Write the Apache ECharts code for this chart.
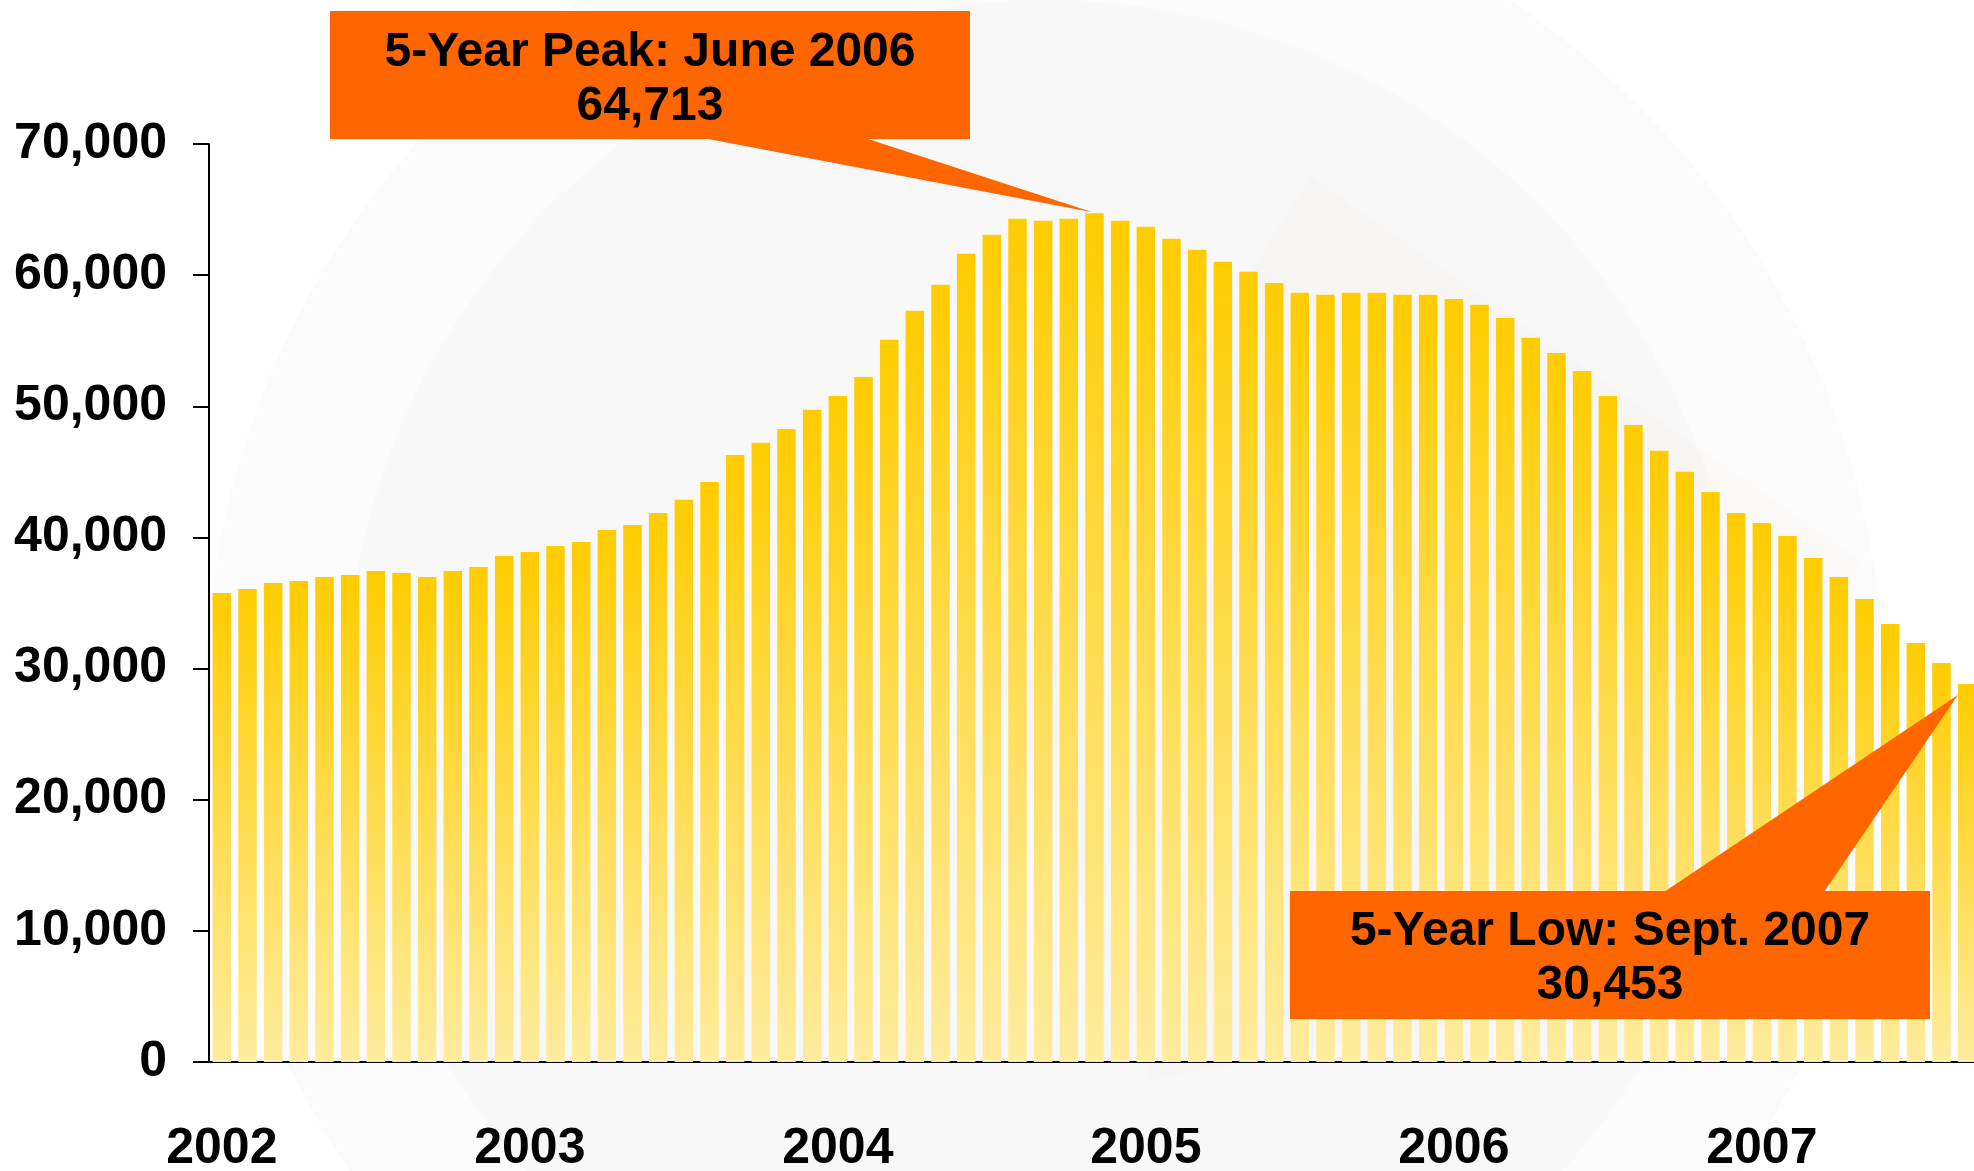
<!DOCTYPE html>
<html>
<head>
<meta charset="utf-8">
<script src="https://cdn.jsdelivr.net/npm/echarts@6/dist/echarts.min.js"></script>
<style>
html,body{margin:0;padding:0;background:#ffffff;}
#chart{width:1974px;height:1171px;}
</style>
</head>
<body>
<div id="chart"></div>
<script>
// ---- Data ----
const years = ['2002', '2003', '2004', '2005', '2006', '2007'];
const monthsInYear = [12, 12, 12, 12, 12, 9];
const categories = [];
years.forEach(function (y, i) {
  for (let m = 1; m <= monthsInYear[i]; m++) {
    categories.push(y + '-' + (m < 10 ? '0' + m : '' + m));
  }
});

const values = [
  35760, 36070, 36520, 36680, 36980, 37140, 37440, 37290, 36980, 37440, 37750, 38590,
  38890, 39350, 39650, 40570, 40950, 41870, 42870, 44220, 46290, 47210, 48270, 49730,
  50790, 52240, 55070, 57280, 59260, 61630, 63080, 64300, 64150, 64300, 64713, 64150,
  63690, 62770, 61930, 61020, 60250, 59410, 58650, 58500, 58650, 58650, 58500, 58500,
  58190, 57740, 56740, 55220, 54070, 52700, 50790, 48580, 46600, 45000, 43470, 41870,
  41100, 40110, 38430, 36980, 35300, 33400, 31950, 30420, 28820
];

const yTicks = [0, 10000, 20000, 30000, 40000, 50000, 60000, 70000];

const peakText = ['5-Year Peak: June 2006', '64,713'];
const lowText = ['5-Year Low: Sept. 2007', '30,453'];

// ---- Chart ----
const chart = echarts.init(document.getElementById('chart'), null, { renderer: 'canvas' });
const FONT = '"Liberation Sans", Arial, sans-serif';

const option = {
  animation: false,
  backgroundColor: '#ffffff',
  grid: { left: 209, top: 144, bottom: 109, width: 1771, containLabel: false, outerBoundsMode: 'none' },
  xAxis: {
    type: 'category',
    data: categories,
    boundaryGap: true,
    axisLine: { show: true, lineStyle: { color: '#000', width: 2 } },
    axisTick: { show: false },
    axisLabel: {
      interval: 11,
      margin: 62,
      color: '#000',
      fontFamily: FONT,
      fontWeight: 'bold',
      fontSize: 50,
      formatter: function (v) { return v.slice(0, 4); }
    },
    splitLine: { show: false }
  },
  yAxis: {
    type: 'value',
    min: yTicks[0],
    max: yTicks[yTicks.length - 1],
    interval: yTicks[1] - yTicks[0],
    axisLine: { show: true, lineStyle: { color: '#000', width: 2 } },
    axisTick: { show: true, length: 16, inside: false, lineStyle: { color: '#000', width: 2 } },
    axisLabel: {
      margin: 42,
      color: '#000',
      fontFamily: FONT,
      fontWeight: 'bold',
      fontSize: 50,
      formatter: function (v) { return v.toLocaleString('en-US'); }
    },
    splitLine: { show: false }
  },
  series: [{
    type: 'bar',
    data: values,
    barWidth: '72%',
    z: 2,
    itemStyle: {
      color: {
        type: 'linear', x: 0, y: 0, x2: 0, y2: 1,
        colorStops: [
          { offset: 0, color: '#FFCC00' },
          { offset: 1, color: '#FFEC9E' }
        ]
      }
    }
  }]
};
chart.setOption(option);

// ---- Callouts anchored to the data ----
const peakIdx = values.indexOf(Math.max.apply(null, values));
const lowIdx = values.length - 1;
const pk = chart.convertToPixel({ seriesIndex: 0 }, [peakIdx, values[peakIdx]]);
const lw = chart.convertToPixel({ seriesIndex: 0 }, [lowIdx, values[lowIdx]]);
const catW = 1771 / categories.length;
const halfBar = catW * 0.72 / 2;

const ORANGE = '#FF6600';
const peakBox = { x: 330, y: 11, w: 640, h: 128 };
const lowBox = { x: 1290, y: 891, w: 640, h: 128 };

chart.setOption({
  graphic: [
    // faint watermark background
    { type: 'circle', z: -10, silent: true, shape: { cx: 1045, cy: 700, r: 840 },
      style: { fill: 'rgba(0,0,0,0.014)' } },
    { type: 'circle', z: -9, silent: true, shape: { cx: 1045, cy: 700, r: 700 },
      style: { fill: 'rgba(0,0,0,0.01)' } },
    { type: 'polygon', z: -8, silent: true,
      shape: { points: [[1310, 176], [1860, 560], [1700, 980], [1150, 1080], [1000, 680]] },
      style: { fill: 'rgba(230,120,120,0.02)' } },
    // peak callout
    { type: 'polygon', z: 100, silent: true,
      shape: { points: [[703, peakBox.y + peakBox.h - 1], [865, peakBox.y + peakBox.h - 1], [pk[0] - 2, pk[1] - 1]] },
      style: { fill: ORANGE } },
    { type: 'rect', z: 100, silent: true,
      shape: { x: peakBox.x, y: peakBox.y, width: peakBox.w, height: peakBox.h },
      style: { fill: ORANGE } },
    { type: 'text', z: 101, silent: true,
      x: peakBox.x + peakBox.w / 2, y: peakBox.y + peakBox.h / 2 + 5,
      style: { text: peakText.join('\n'), fill: '#000', font: 'bold 48px ' + FONT,
        align: 'center', verticalAlign: 'middle', lineHeight: 54 } },
    // low callout
    { type: 'polygon', z: 100, silent: true,
      shape: { points: [[1664, lowBox.y + 1], [1824, lowBox.y + 1], [lw[0] - halfBar, lw[1] + 11]] },
      style: { fill: ORANGE } },
    { type: 'rect', z: 100, silent: true,
      shape: { x: lowBox.x, y: lowBox.y, width: lowBox.w, height: lowBox.h },
      style: { fill: ORANGE } },
    { type: 'text', z: 101, silent: true,
      x: lowBox.x + lowBox.w / 2, y: lowBox.y + lowBox.h / 2 + 4,
      style: { text: lowText.join('\n'), fill: '#000', font: 'bold 48px ' + FONT,
        align: 'center', verticalAlign: 'middle', lineHeight: 54 } }
  ]
});
</script>
</body>
</html>
